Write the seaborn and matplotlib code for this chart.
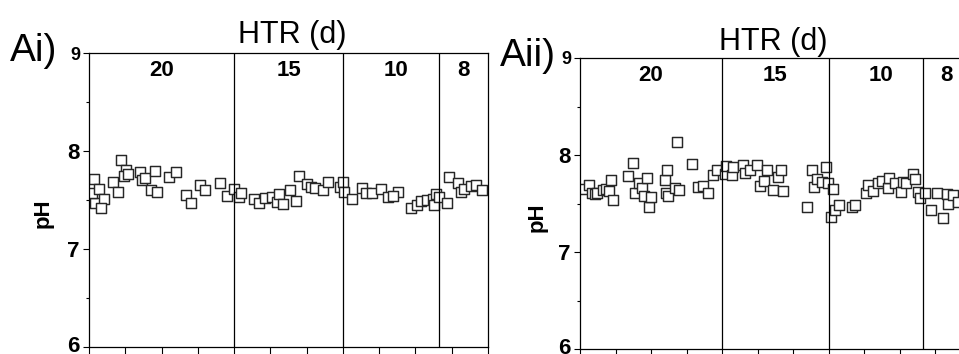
import numpy as np
import pandas as pd
import matplotlib
matplotlib.use("Agg")
import matplotlib.pyplot as plt
import matplotlib.transforms as mtransforms
import seaborn as sns
from matplotlib.ticker import MultipleLocator

sns.set_theme(style="white")
plt.rcParams['font.family'] = ['Liberation Sans', 'DejaVu Sans']

# ---------------- data ----------------
htr_labels = ["20", "15", "10", "8"]
htr_bounds = [0, 40, 70, 96.5, 110]

day_i = [1.4, 1.7, 0.8, 2.75, 4.1, 3.3, 6.7, 8.1, 8.7, 10.2, 9.6, 10.8, 14.0, 14.6, 15.5,
         18.1, 17.2, 18.8, 22.1, 23.9, 26.7, 28.1, 30.7, 32.0, 36.0, 38.0, 39.9, 41.3, 42.0,
         45.4, 46.8, 48.5, 50.5, 51.8, 52.5, 53.5, 55.3, 57.2, 57.9, 60.2, 61.3, 62.4, 64.6,
         65.8, 69.1, 70.0, 70.4, 72.5, 75.3, 76.5, 77.9, 80.6, 82.3, 85.1, 83.9, 88.9, 90.3,
         91.5, 93.1, 94.7, 95.2, 95.8, 96.6, 98.6, 99.3, 101.6, 102.5, 103.4, 105.3, 106.7,
         108.4]
ph_i = [7.71, 7.47, 7.57, 7.61, 7.51, 7.42, 7.68, 7.58, 7.91, 7.81, 7.74, 7.77, 7.79, 7.70,
        7.72, 7.80, 7.60, 7.58, 7.73, 7.79, 7.55, 7.47, 7.65, 7.60, 7.67, 7.54, 7.61, 7.53,
        7.57, 7.51, 7.47, 7.52, 7.53, 7.48, 7.56, 7.46, 7.60, 7.49, 7.75, 7.66, 7.63, 7.62,
        7.60, 7.68, 7.63, 7.68, 7.58, 7.51, 7.62, 7.57, 7.57, 7.61, 7.53, 7.58, 7.54, 7.42,
        7.45, 7.49, 7.50, 7.51, 7.45, 7.56, 7.53, 7.47, 7.73, 7.67, 7.58, 7.61, 7.64, 7.65,
        7.60]

day_ii = [1.1, 2.6, 3.3, 4.2, 4.7, 6.4, 7.3, 8.2, 8.6, 9.4, 13.4, 14.8, 15.5, 16.7, 17.4,
          18.1, 18.8, 19.4, 20.0, 24.0, 24.6, 24.2, 24.9, 26.8, 27.9, 27.2, 31.5, 33.3, 34.7,
          36.0, 37.4, 38.5, 40.8, 41.1, 42.7, 43.2, 45.8, 46.5, 47.9, 49.9, 50.7, 51.8, 52.6,
          54.5, 55.9, 56.5, 57.3, 63.9, 65.3, 65.9, 66.7, 68.1, 69.2, 69.9, 71.2, 70.6, 71.8,
          73.0, 76.5, 77.5, 80.5, 81.2, 82.5, 84.0, 85.0, 86.8, 87.1, 88.7, 90.3, 91.1, 91.7,
          93.7, 94.4, 95.3, 95.8, 97.2, 98.8, 100.5, 102.3, 103.5, 103.7, 105.2, 106.5]
ph_ii = [7.65, 7.69, 7.61, 7.60, 7.61, 7.64, 7.65, 7.63, 7.74, 7.54, 7.78, 7.92, 7.61, 7.71,
         7.66, 7.58, 7.76, 7.46, 7.57, 7.74, 7.85, 7.61, 7.58, 7.66, 7.64, 8.13, 7.91, 7.67,
         7.68, 7.61, 7.79, 7.85, 7.80, 7.89, 7.79, 7.88, 7.90, 7.81, 7.85, 7.90, 7.68, 7.73,
         7.85, 7.64, 7.77, 7.85, 7.63, 7.46, 7.85, 7.67, 7.75, 7.72, 7.88, 7.71, 7.65, 7.36,
         7.43, 7.48, 7.46, 7.48, 7.61, 7.69, 7.63, 7.71, 7.73, 7.66, 7.76, 7.71, 7.62, 7.72,
         7.71, 7.80, 7.75, 7.62, 7.56, 7.61, 7.43, 7.61, 7.35, 7.60, 7.50, 7.59, 7.52]

df_i = pd.DataFrame({"day": day_i, "pH": ph_i})
df_ii = pd.DataFrame({"day": day_ii, "pH": ph_ii})

# ---------------- figure ----------------
W, H = 959, 354
fig = plt.figure(figsize=(W / 100, H / 100), dpi=100)

def fx(px):
    return px / W

def fy(py):
    return 1 - py / H

ax1 = fig.add_axes([fx(89), fy(347), fx(488 - 89), (347 - 53) / H])
ax2 = fig.add_axes([fx(580), fy(349), fx(390.5), (349 - 58) / H])

for ax, df in [(ax1, df_i), (ax2, df_ii)]:
    sns.scatterplot(data=df, x="day", y="pH", ax=ax, marker="s", s=50,
                    facecolor="white", edgecolor="#262626", linewidth=1.05,
                    zorder=2, legend=False)
    for b in htr_bounds[1:-1]:
        ax.axvline(b, color="black", lw=0.9, zorder=3)
    for i, lab in enumerate(htr_labels):
        mid = (htr_bounds[i] + htr_bounds[i + 1]) / 2
        if i == 2:
            mid += 1.5
        ax.text(mid, 8.82, lab, ha="center", va="center", fontsize=16,
                fontweight="bold", color="black")
    ax.set_xlim(htr_bounds[0], htr_bounds[-1])
    ax.set_ylim(6, 9)
    ax.xaxis.set_major_locator(MultipleLocator(20))
    ax.xaxis.set_minor_locator(MultipleLocator(10))
    ax.yaxis.set_major_locator(MultipleLocator(1))
    ax.yaxis.set_minor_locator(MultipleLocator(0.5))
    ax.tick_params(axis="both", which="major", direction="out", length=4.5, width=0.8,
                   color="black", left=True, bottom=True, labelbottom=False, pad=2)
    ax.tick_params(axis="both", which="minor", direction="out", length=2.5, width=0.8,
                   color="black", left=True, bottom=True)
    ax.tick_params(axis="x", which="both", length=6)
    ax.set_xlabel("")
    ax.set_ylabel("")
    for sp in ax.spines.values():
        sp.set_color("black")
        sp.set_linewidth(0.9)

fig.canvas.draw()
lift = mtransforms.ScaledTranslation(0, 2.5 / 72, fig.dpi_scale_trans)
for ax in (ax1, ax2):
    for lbl in ax.get_yticklabels():
        lbl.set_fontweight("bold")
        lbl.set_color("black")
        lbl.set_fontsize(13 if lbl.get_text() == "9" else 16)
        if lbl.get_text() == "6":
            lbl.set_transform(lbl.get_transform() + lift)

fig.text(fx(10), fy(51), "Ai)", ha="left", va="center", fontsize=28, color="black")
fig.text(fx(500), fy(56), "Aii)", ha="left", va="center", fontsize=28, color="black")
fig.text(fx(292), fy(35), "HTR (d)", ha="center", va="center", fontsize=22, color="black")
fig.text(fx(773), fy(42), "HTR (d)", ha="center", va="center", fontsize=22, color="black")
fig.text(fx(43), fy(213), "pH", ha="center", va="center", rotation=90, fontsize=16,
         fontweight="bold", color="black")
fig.text(fx(537), fy(217), "pH", ha="center", va="center", rotation=90, fontsize=16,
         fontweight="bold", color="black")

fig.savefig("out.png", dpi=100, facecolor="white")
